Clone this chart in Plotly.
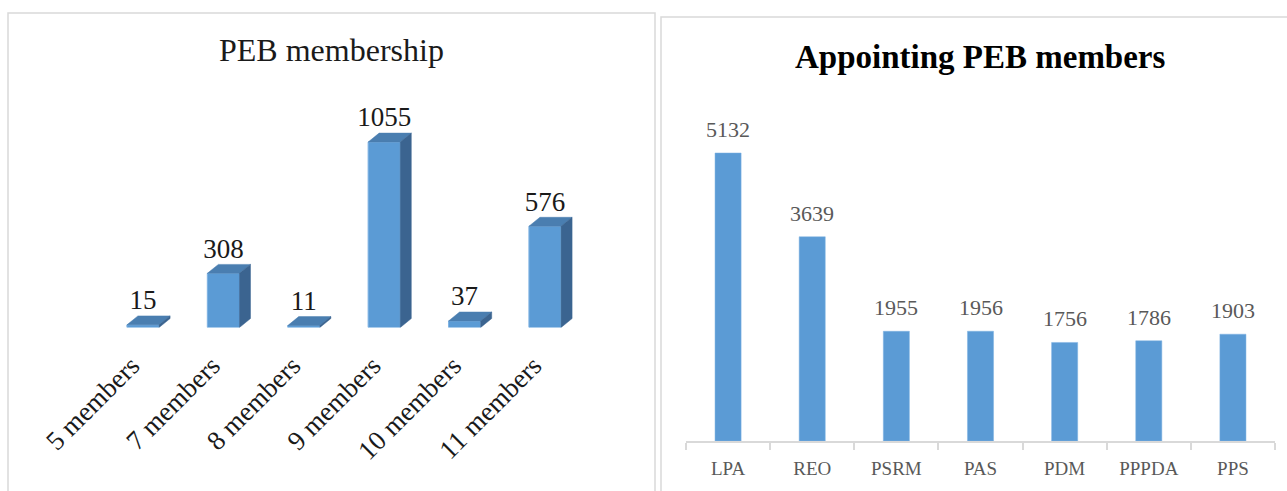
import plotly.graph_objects as go

# ---------------- data ----------------
membership_categories = ["5 members", "7 members", "8 members", "9 members", "10 members", "11 members"]
membership_values = [15, 308, 11, 1055, 37, 576]

appoint_categories = ["LPA", "REO", "PSRM", "PAS", "PDM", "PPPDA", "PPS"]
appoint_values = [5132, 3639, 1955, 1956, 1756, 1786, 1903]

# ---------------- figure geometry ----------------
W, H = 1287, 491
SERIF = "Liberation Serif, Times New Roman, serif"

def px_x(p):
    return p / W

def px_y(p):
    return 1 - p / H

# left panel 3D-look bars
bar_w = 0.40          # front face width (category units)
depth_x = 0.137       # depth offset (category units)
Y1_MAX = 1300
depth_y = 51          # depth offset (value units)
label_shift = 0.14    # rotated labels sit slightly left of bar centre

idx = list(range(len(membership_values)))

top_x, top_y, side_x, side_y = [], [], [], []
for i, v in zip(idx, membership_values):
    l, r = i - bar_w / 2, i + bar_w / 2
    top_x += [l, r, r + depth_x, l + depth_x, l, None]
    top_y += [v, v, v + depth_y, v + depth_y, v, None]
    side_x += [r, r + depth_x, r + depth_x, r, r, None]
    side_y += [0, depth_y, v + depth_y, v, 0, None]

fig = go.Figure()

fig.add_trace(go.Bar(
    x=idx, y=membership_values, width=bar_w,
    marker=dict(color="#5b9bd5", line=dict(color="#7fb2e2", width=1)),
    xaxis="x", yaxis="y", hoverinfo="skip",
))
fig.add_trace(go.Scatter(
    x=top_x, y=top_y, mode="lines", fill="toself",
    fillcolor="#4a7eb0", line=dict(color="#4a7eb0", width=0.5),
    xaxis="x", yaxis="y", hoverinfo="skip",
))
fig.add_trace(go.Scatter(
    x=side_x, y=side_y, mode="lines", fill="toself",
    fillcolor="#3b6490", line=dict(color="#3b6490", width=0.5),
    xaxis="x", yaxis="y", hoverinfo="skip",
))
fig.add_trace(go.Scatter(
    x=idx, y=[v + depth_y for v in membership_values],
    mode="text", text=[str(v) for v in membership_values],
    textposition="top center",
    textfont=dict(family=SERIF, size=27, color="#1a1a1a"),
    xaxis="x", yaxis="y", hoverinfo="skip", cliponaxis=False,
))

# right panel
fig.add_trace(go.Bar(
    x=appoint_categories, y=appoint_values, width=0.31,
    marker=dict(color="#5b9bd5", line=dict(color="#7fb2e2", width=0.5)),
    xaxis="x2", yaxis="y2", hoverinfo="skip",
))

value_annotations = [
    dict(text=str(v), x=c, y=v, xref="x2", yref="y2",
         showarrow=False, xanchor="center", yanchor="bottom", yshift=9,
         font=dict(family=SERIF, size=22, color="#595959"))
    for c, v in zip(appoint_categories, appoint_values)
]

fig.update_layout(
    width=W, height=H, autosize=False,
    margin=dict(l=0, r=0, t=0, b=0, autoexpand=False),
    paper_bgcolor="white", plot_bgcolor="white",
    showlegend=False,
    xaxis=dict(
        domain=[px_x(102.8), px_x(585.2)], range=[-0.5, 5.5],
        tickvals=[i - label_shift for i in idx], ticktext=membership_categories, tickangle=-45,
        tickfont=dict(family=SERIF, size=27, color="#1a1a1a"),
        showgrid=False, zeroline=False, showline=False, ticks="",
        ticklabelstandoff=16, anchor="y", automargin=False,
    ),
    yaxis=dict(
        domain=[px_y(327.5), px_y(99)], range=[0, Y1_MAX],
        visible=False, anchor="x", automargin=False,
    ),
    xaxis2=dict(
        domain=[px_x(686), px_x(1275)], type="category",
        tickfont=dict(family=SERIF, size=19, color="#595959"),
        showgrid=False, zeroline=False,
        showline=True, linecolor="#d9d9d9", linewidth=2,
        ticks="outside", tickson="boundaries", ticklen=7, tickcolor="#d9d9d9", tickwidth=2,
        ticklabelstandoff=9, anchor="y2", automargin=False,
    ),
    yaxis2=dict(
        domain=[px_y(441), px_y(115.5)], range=[0, 5800],
        visible=False, anchor="x2", automargin=False,
    ),
    annotations=value_annotations + [
        dict(text="PEB membership", x=px_x(331), y=px_y(50), xref="paper", yref="paper",
             showarrow=False, xanchor="center", yanchor="middle",
             font=dict(family=SERIF, size=32, color="#1a1a1a")),
        dict(text="<b>Appointing PEB members</b>", x=px_x(981), y=px_y(57), xref="paper", yref="paper",
             showarrow=False, xanchor="center", yanchor="middle",
             font=dict(family=SERIF, size=33, color="#000000")),
    ],
    shapes=[
        dict(type="rect", xref="paper", yref="paper",
             x0=px_x(8), x1=px_x(655), y0=-0.05, y1=px_y(13),
             line=dict(color="#d9d9d9", width=1.5)),
        dict(type="rect", xref="paper", yref="paper",
             x0=px_x(661), x1=1.05, y0=-0.05, y1=px_y(17),
             line=dict(color="#d9d9d9", width=1.5)),
    ],
)

fig.write_html(
    "out.html",
    config={"displayModeBar": False},
    post_script="document.body.style.margin='0';document.body.style.padding='0';",
)
